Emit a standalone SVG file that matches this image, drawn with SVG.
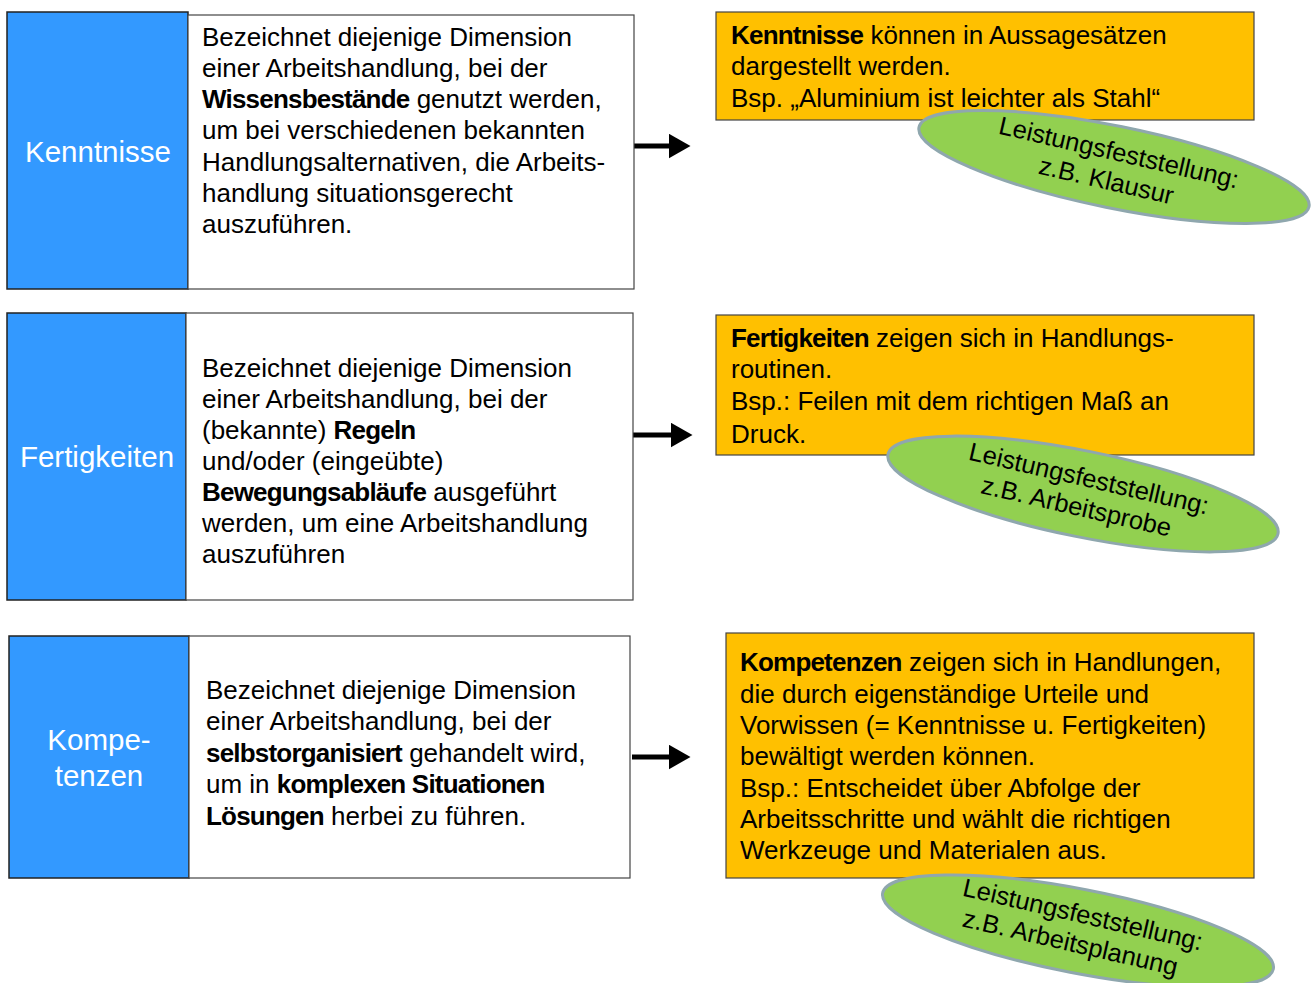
<svg xmlns="http://www.w3.org/2000/svg" width="1315" height="983" viewBox="0 0 1315 983">
<style>
.lab{fill:#3399FF;stroke:#222;stroke-width:1.5}
.desc{fill:#fff;stroke:#444;stroke-width:1.2}
.ora{fill:#FFC000;stroke:#444;stroke-width:1.2}
.ell{fill:#92D050;stroke:#8FA7AE;stroke-width:3}
.t{font-family:"Liberation Sans",Arial,sans-serif;font-size:26px;fill:#000}
.w{font-family:"Liberation Sans",Arial,sans-serif;font-size:29.5px;fill:#fff;text-anchor:middle}
.e{font-family:"Liberation Sans",Arial,sans-serif;font-size:25.5px;fill:#000;text-anchor:middle}
.b{font-weight:bold;letter-spacing:-0.8px}
.arr{stroke:#000;stroke-width:5;fill:none}
</style>
<defs>
<marker id="ah" markerWidth="5" markerHeight="5" refX="0.5" refY="2.5" orient="auto" markerUnits="strokeWidth">
<path d="M0,0 L4.4,2.5 L0,5 z" fill="#000"/>
</marker>
</defs>

<g id="connectors">
<line class="arr" x1="634" y1="146" x2="671" y2="146" marker-end="url(#ah)"/>
<line class="arr" x1="633" y1="435" x2="673" y2="435" marker-end="url(#ah)"/>
<line class="arr" x1="632" y1="757" x2="671" y2="757" marker-end="url(#ah)"/>
</g>

<g id="kenntnisse">
<rect class="lab" x="7" y="12" width="181" height="277"/>
<text class="w" x="98" y="162">Kenntnisse</text>
</g>
<g id="kenntnisse-desc">
<rect class="desc" x="188" y="15" width="446" height="274"/>
<text class="t" x="202" y="46">Bezeichnet diejenige Dimension</text>
<text class="t" x="202" y="77">einer Arbeitshandlung, bei der</text>
<text class="t" x="202" y="108"><tspan class="b">Wissensbestände</tspan> genutzt werden,</text>
<text class="t" x="202" y="139">um bei verschiedenen bekannten</text>
<text class="t" x="202" y="171">Handlungsalternativen, die Arbeits-</text>
<text class="t" x="202" y="202">handlung situationsgerecht</text>
<text class="t" x="202" y="233">auszuführen.</text>
</g>
<g id="kenntnisse-bsp">
<rect class="ora" x="716" y="12" width="538" height="108"/>
<text class="t" x="731" y="44"><tspan class="b">Kenntnisse</tspan> können in Aussagesätzen</text>
<text class="t" x="731" y="75">dargestellt werden.</text>
<text class="t" x="731" y="107">Bsp. „Aluminium ist leichter als Stahl“</text>
</g>
<g id="kenntnisse-pruefung">
<ellipse class="ell" cx="1114" cy="167" rx="199" ry="41" transform="rotate(11.5 1114 167)"/>
<g transform="translate(1117 161) rotate(13)">
<text class="e" x="0" y="0">Leistungsfeststellung:</text>
<text class="e" x="-6" y="30">z.B. Klausur</text>
</g>
</g>

<g id="fertigkeiten">
<rect class="lab" x="7" y="313" width="179" height="287"/>
<text class="w" x="97" y="467">Fertigkeiten</text>
</g>
<g id="fertigkeiten-desc">
<rect class="desc" x="186" y="313" width="447" height="287"/>
<text class="t" x="202" y="377">Bezeichnet diejenige Dimension</text>
<text class="t" x="202" y="408">einer Arbeitshandlung, bei der</text>
<text class="t" x="202" y="439">(bekannte) <tspan class="b">Regeln</tspan></text>
<text class="t" x="202" y="470">und/oder (eingeübte)</text>
<text class="t" x="202" y="501"><tspan class="b">Bewegungsabläufe</tspan> ausgeführt</text>
<text class="t" x="202" y="532">werden, um eine Arbeitshandlung</text>
<text class="t" x="202" y="563">auszuführen</text>
</g>
<g id="fertigkeiten-bsp">
<rect class="ora" x="716" y="315" width="538" height="140"/>
<text class="t" x="731" y="347"><tspan class="b">Fertigkeiten</tspan> zeigen sich in Handlungs-</text>
<text class="t" x="731" y="378">routinen.</text>
<text class="t" x="731" y="410">Bsp.: Feilen mit dem richtigen Maß an</text>
<text class="t" x="731" y="443">Druck.</text>
</g>
<g id="fertigkeiten-pruefung">
<ellipse class="ell" cx="1083" cy="494" rx="199" ry="43" transform="rotate(11.5 1083 494)"/>
<g transform="translate(1087 487) rotate(13)">
<text class="e" x="0" y="0">Leistungsfeststellung:</text>
<text class="e" x="-6" y="30">z.B. Arbeitsprobe</text>
</g>
</g>

<g id="kompetenzen">
<rect class="lab" x="9" y="636" width="180" height="242"/>
<text class="w" x="99" y="750">Kompe-</text>
<text class="w" x="99" y="786">tenzen</text>
</g>
<g id="kompetenzen-desc">
<rect class="desc" x="189" y="636" width="441" height="242"/>
<text class="t" x="206" y="699">Bezeichnet diejenige Dimension</text>
<text class="t" x="206" y="730">einer Arbeitshandlung, bei der</text>
<text class="t" x="206" y="762"><tspan class="b">selbstorganisiert</tspan> gehandelt wird,</text>
<text class="t" x="206" y="793">um in <tspan class="b">komplexen Situationen</tspan></text>
<text class="t" x="206" y="825"><tspan class="b">Lösungen</tspan> herbei zu führen.</text>
</g>
<g id="kompetenzen-bsp">
<rect class="ora" x="726" y="633" width="528" height="245"/>
<text class="t" x="740" y="671"><tspan class="b">Kompetenzen</tspan> zeigen sich in Handlungen,</text>
<text class="t" x="740" y="703">die durch eigenständige Urteile und</text>
<text class="t" x="740" y="734">Vorwissen (= Kenntnisse u. Fertigkeiten)</text>
<text class="t" x="740" y="765">bewältigt werden können.</text>
<text class="t" x="740" y="797">Bsp.: Entscheidet über Abfolge der</text>
<text class="t" x="740" y="828">Arbeitsschritte und wählt die richtigen</text>
<text class="t" x="740" y="859">Werkzeuge und Materialen aus.</text>
</g>
<g id="kompetenzen-pruefung">
<ellipse class="ell" cx="1078" cy="931" rx="199" ry="42" transform="rotate(11 1078 931)"/>
<g transform="translate(1081 923) rotate(13)">
<text class="e" x="0" y="0">Leistungsfeststellung:</text>
<text class="e" x="-6" y="30">z.B. Arbeitsplanung</text>
</g>
</g>
</svg>
